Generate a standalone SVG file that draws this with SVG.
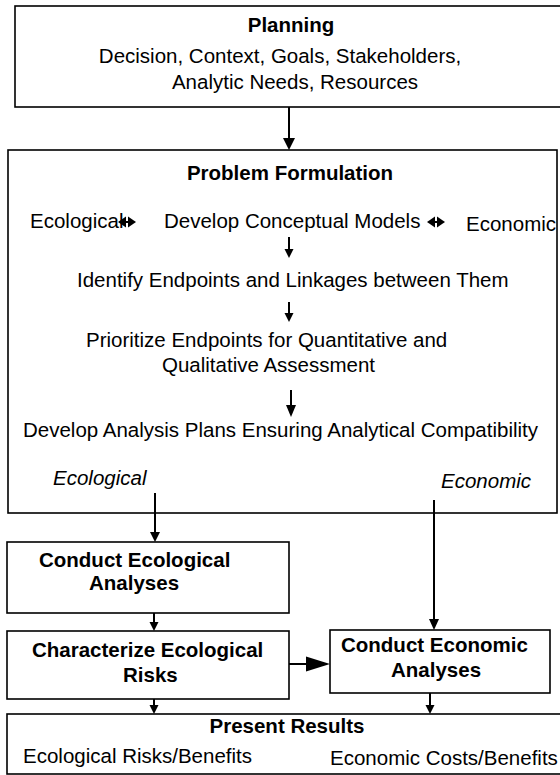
<svg xmlns="http://www.w3.org/2000/svg" width="560" height="775" viewBox="0 0 560 775">
<style>
.box{fill:#fff;stroke:#000;stroke-width:1.6}
text{font-family:"Liberation Sans",Arial,Helvetica,sans-serif;font-size:20.5px;fill:#000}
.b{font-weight:bold}
.i{font-style:italic}
.m{text-anchor:middle}
.ln{stroke:#000;stroke-width:2;fill:none}
.hd{fill:#000;stroke:none}
</style>
<rect width="560" height="775" fill="#fff"/>
<g id="planning">
<rect class="box" x="15" y="6" width="548" height="101"/>
<text class="b m" x="291" y="32">Planning</text>
<text class="m" x="280" y="63">Decision, Context, Goals, Stakeholders,</text>
<text class="m" x="295" y="89">Analytic Needs, Resources</text>
</g>
<g id="problem-formulation">
<rect class="box" x="8" y="150" width="549" height="363"/>
<text class="b m" x="290" y="180">Problem Formulation</text>
<text x="30" y="228">Ecological</text>
<text x="164" y="228">Develop Conceptual Models</text>
<text x="466" y="231">Economic</text>
<text x="77" y="287">Identify Endpoints and Linkages between Them</text>
<text x="86" y="347">Prioritize Endpoints for Quantitative and</text>
<text x="162" y="372">Qualitative Assessment</text>
<text x="23" y="437">Develop Analysis Plans Ensuring Analytical Compatibility</text>
<text class="i" x="53" y="485">Ecological</text>
<text class="i" x="441" y="488">Economic</text>
</g>
<g id="conduct-ecological">
<rect class="box" x="7" y="542" width="282" height="71"/>
<text class="b" x="39" y="567">Conduct Ecological</text>
<text class="b" x="89" y="590">Analyses</text>
</g>
<g id="characterize">
<rect class="box" x="7" y="631" width="282" height="68"/>
<text class="b" x="32" y="657">Characterize Ecological</text>
<text class="b" x="123" y="682">Risks</text>
</g>
<g id="conduct-economic">
<rect class="box" x="330" y="630" width="220" height="63"/>
<text class="b" x="341" y="652">Conduct Economic</text>
<text class="b" x="391" y="677">Analyses</text>
</g>
<g id="present">
<rect class="box" x="7" y="714" width="556" height="60"/>
<text class="b m" x="287" y="733">Present Results</text>
<text x="23" y="763">Ecological Risks/Benefits</text>
<text x="330" y="765">Economic Costs/Benefits</text>
</g>
<g id="connectors">
<line class="ln" x1="289" y1="107" x2="289" y2="140" stroke-width="3"/>
<polygon class="hd" points="283,138 295,138 289,150"/>
<line class="ln" x1="122" y1="222" x2="133" y2="222" stroke-width="2"/>
<polygon class="hd" points="118,222 126,216.5 126,227.5"/>
<polygon class="hd" points="136,222 128,216.5 128,227.5"/>
<line class="ln" x1="431" y1="222" x2="442" y2="222" stroke-width="2"/>
<polygon class="hd" points="427,222 435,216.5 435,227.5"/>
<polygon class="hd" points="445,222 437,216.5 437,227.5"/>
<line class="ln" x1="289" y1="237" x2="289" y2="250"/>
<polygon class="hd" points="284.5,249 293.5,249 289,258"/>
<line class="ln" x1="289" y1="302" x2="289" y2="314"/>
<polygon class="hd" points="284.5,313 293.5,313 289,322"/>
<line class="ln" x1="291" y1="390" x2="291" y2="406"/>
<polygon class="hd" points="286,405 296,405 291,417"/>
<line class="ln" x1="155" y1="493" x2="155" y2="533"/>
<polygon class="hd" points="150,532 160,532 155,542"/>
<line class="ln" x1="434" y1="500" x2="434" y2="620"/>
<polygon class="hd" points="429,619 439,619 434,630"/>
<line class="ln" x1="154" y1="613" x2="154" y2="623"/>
<polygon class="hd" points="149.5,622 158.5,622 154,631"/>
<line class="ln" x1="289" y1="664" x2="308" y2="664" stroke-width="1.2"/>
<polygon class="hd" points="306,656.5 330,664 306,671.5"/>
<line class="ln" x1="154" y1="699" x2="154" y2="706"/>
<polygon class="hd" points="149.5,705 158.5,705 154,714"/>
<line class="ln" x1="430" y1="693" x2="430" y2="706"/>
<polygon class="hd" points="425.5,705 434.5,705 430,714"/>
</g>
</svg>
